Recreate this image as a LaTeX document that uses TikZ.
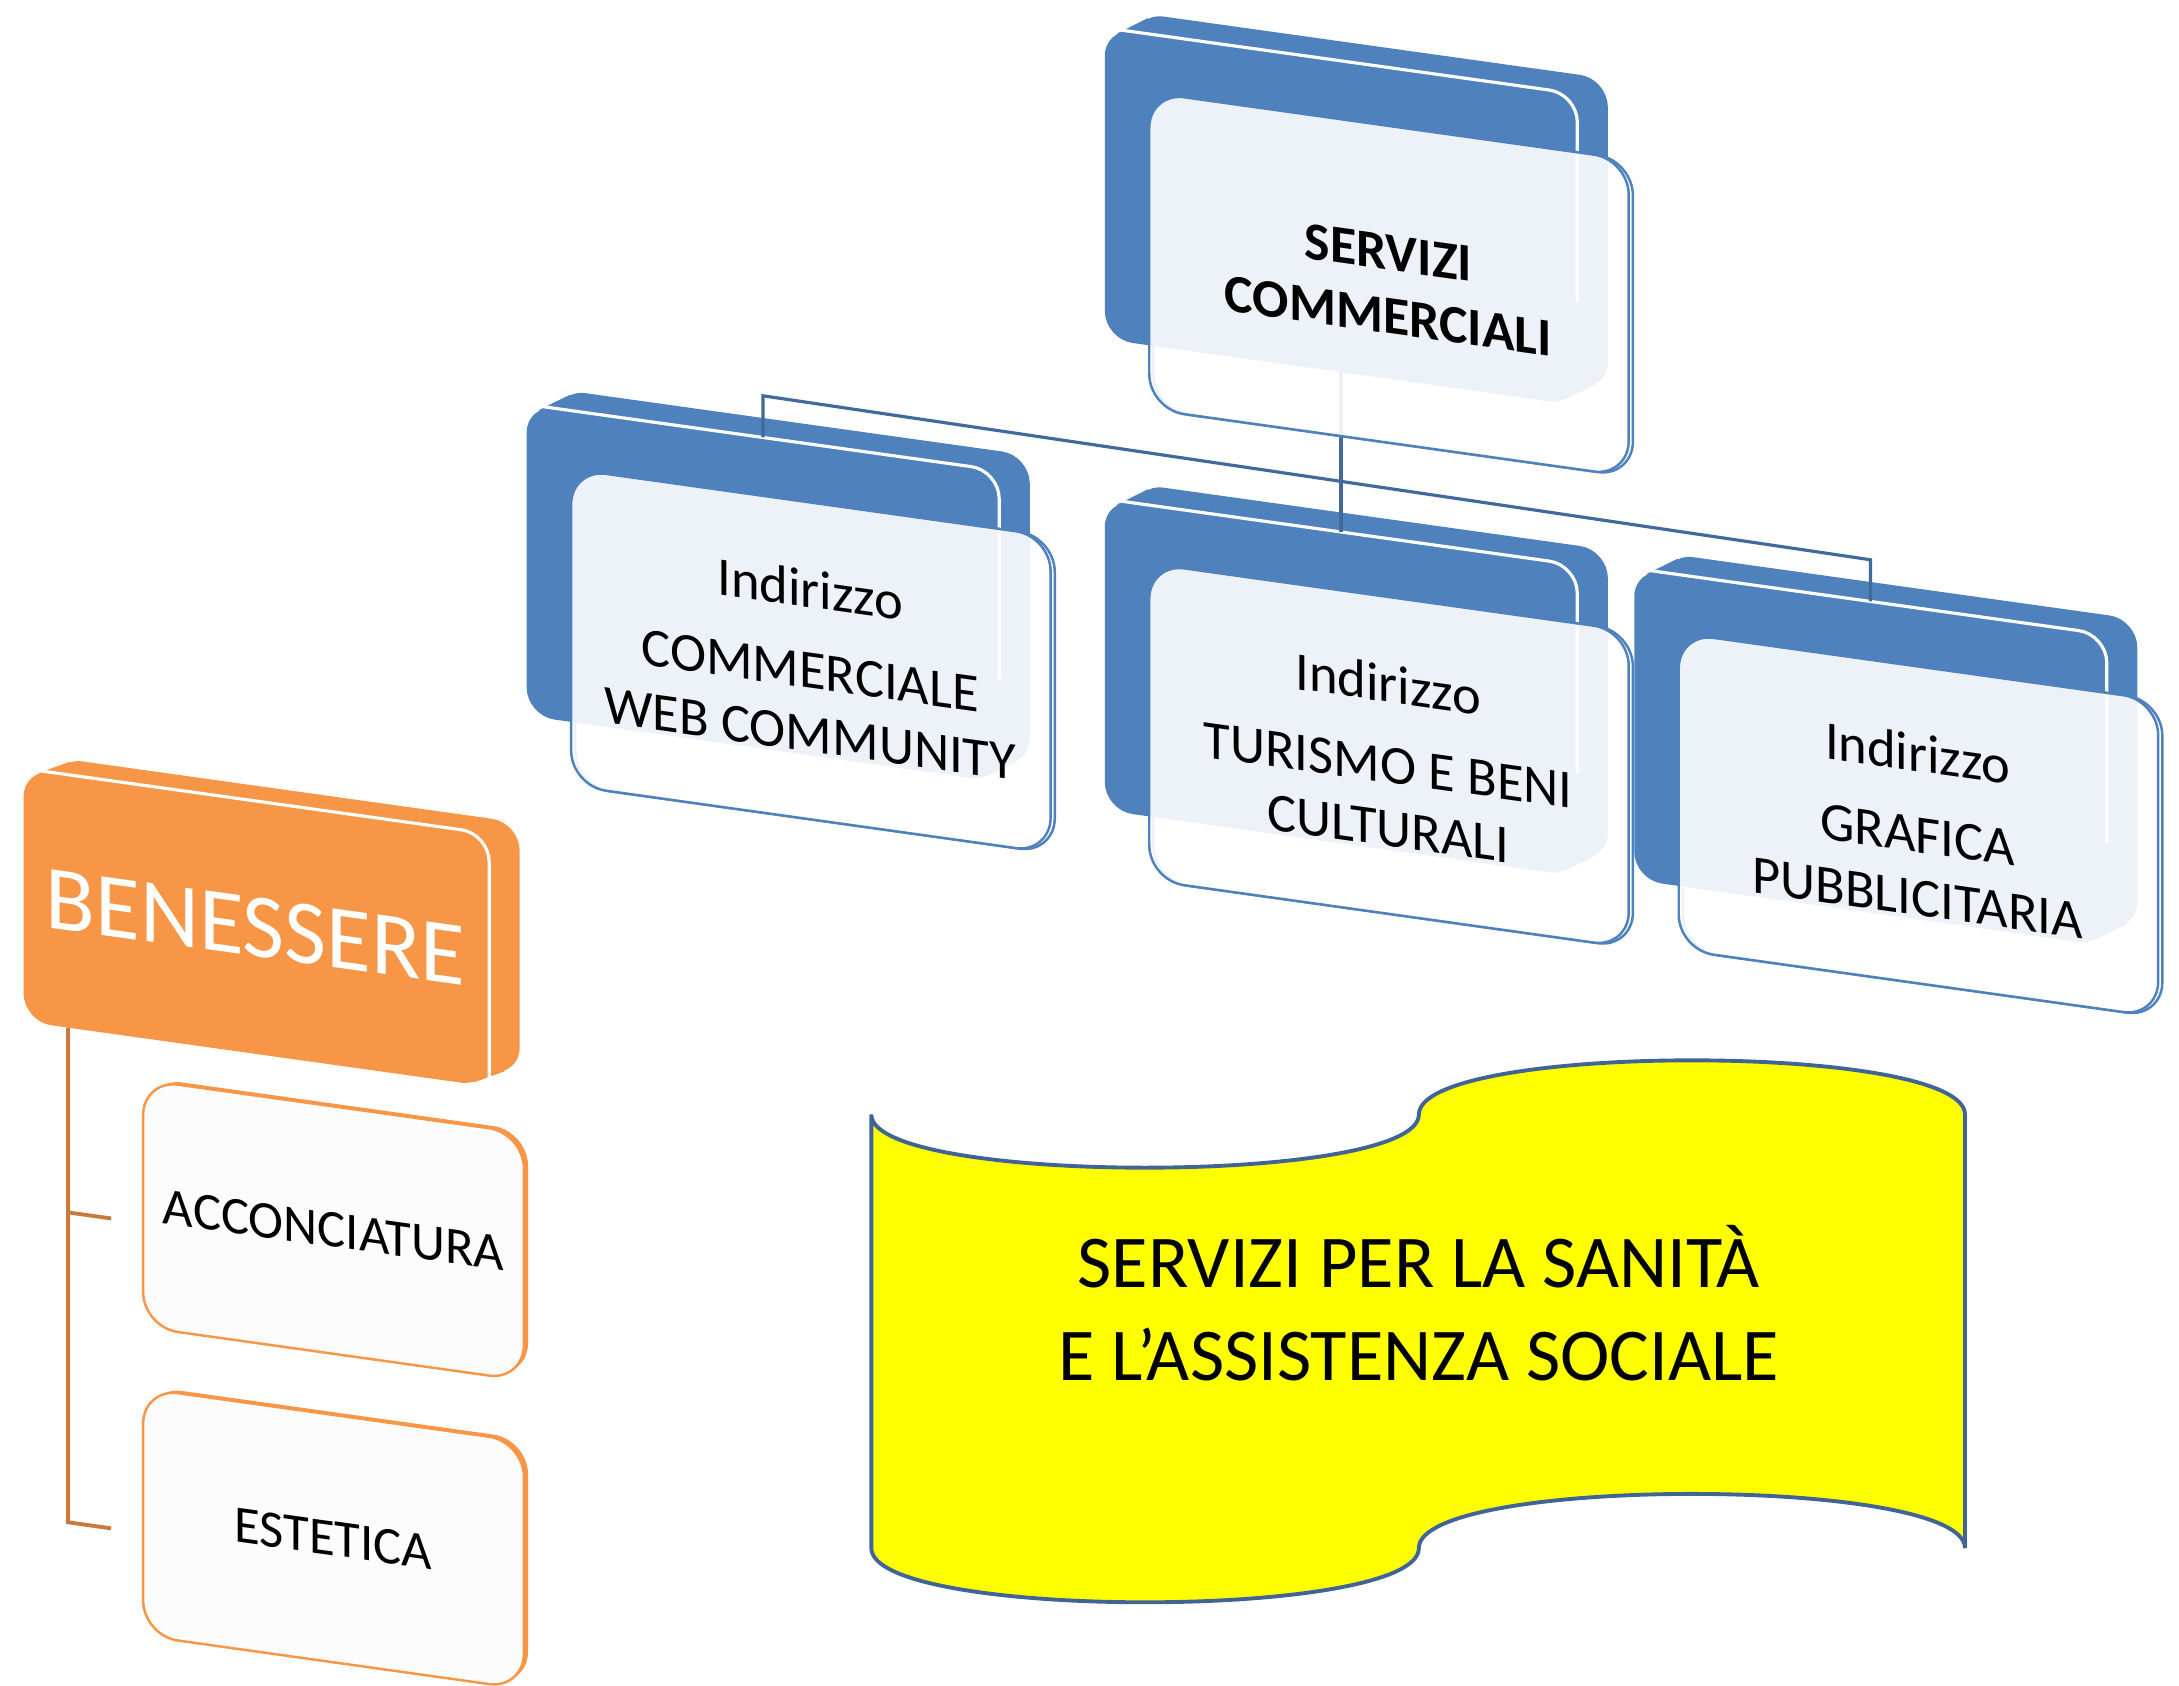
\documentclass[tikz,border=0pt]{standalone}
\usepackage{fontspec}
\setmainfont{Carlito}
\usetikzlibrary{calc}

\definecolor{slabblue}{RGB}{79,129,189}
\definecolor{treeblue}{RGB}{65,105,155}
\definecolor{slaborange}{RGB}{247,150,70}
\definecolor{treeorange}{RGB}{200,122,62}
\definecolor{bannerblue}{RGB}{65,100,150}
\definecolor{bannerfill}{RGB}{255,255,0}
\definecolor{kidwhite}{RGB}{252,252,252}

\tikzset{
  slab/.style={fill=slabblue, rounded corners=8pt},
  oslab/.style={fill=slaborange, rounded corners=8pt},
  rim/.style={draw=white, line width=0.9pt, rounded corners=8pt},
  pane/.style={fill=white, fill opacity=0.9, draw=slabblue, line width=0.7pt, rounded corners=10pt},
  paneedge/.style={draw=slabblue, line width=0.7pt, rounded corners=10pt},
  panetext/.style={align=center, transform shape, font={\fontsize{15.5}{18}\selectfont}},
  kid/.style={fill=kidwhite, draw=slaborange, line width=0.7pt, rounded corners=10pt},
  kidback/.style={fill=slaborange, rounded corners=10pt},
  kidtext/.style={transform shape, font={\fontsize{15}{18}\selectfont}},
  tree/.style={draw=treeblue, line width=0.9pt},
  otree/.style={draw=treeorange, line width=1.1pt},
  banner/.style={fill=bannerfill, draw=bannerblue, line width=1.1pt},
}

\begin{document}
\begin{tikzpicture}[x=0.0139cm, y=-0.0139cm]

  \newcommand\Skew{-0.14}
  \useasboundingbox (0,0) rectangle (1568,1213);

  %% blue slabs
  \foreach \gx/\gy/\gn in {795/20/sc, 379/291/we, 795/359/tu, 1176/409/gr}{
    \begin{scope}[shift={(\gx,\gy)}, yslant=\Skew]
      \fill[slab] (22,-14) rectangle (362,210);
      \fill[slab] (0,0) rectangle (340,224);
      \fill[slabblue] (8.9,2.8) -- (30.9,-11.2) -- (353.1,207.2) -- (331.1,221.2) -- cycle;
      \draw[rim] (10,0) -- (340,0) -- (340,150);
      \coordinate (\gn-top) at (170,0);
      \coordinate (\gn-bot) at (170,224);
    \end{scope}
  }

  \draw[tree] (sc-bot) -- (tu-top); %% sc->tu
  \draw[tree] (we-top) -- ++(0,-30) -- ($(gr-top)+(0,-30)$) -- (gr-top); %% we->gr

  %% panes
  \begin{scope}[shift={(795,20)}, yslant=\Skew]
    \draw[paneedge] (35,42) rectangle (380,270);
    \draw[pane] (32,42) rectangle (377,270);
    \node[panetext, font={\fontsize{15.3}{18}\selectfont\bfseries}] (sc) at (204,156) {SERVIZI\\COMMERCIALI};
  \end{scope}
  \begin{scope}[shift={(379,291)}, yslant=\Skew]
    \draw[paneedge] (35,42) rectangle (380,270);
    \draw[pane] (32,42) rectangle (377,270);
    \node[panetext] (we) at (204,156) {Indirizzo\\[5pt]COMMERCIALE\\WEB COMMUNITY};
  \end{scope}
  \begin{scope}[shift={(795,359)}, yslant=\Skew]
    \draw[paneedge] (35,42) rectangle (380,270);
    \draw[pane] (32,42) rectangle (377,270);
    \node[panetext] (tu) at (204,156) {Indirizzo\\[5pt]TURISMO E BENI\\CULTURALI};
  \end{scope}
  \begin{scope}[shift={(1176,409)}, yslant=\Skew]
    \draw[paneedge] (35,42) rectangle (380,270);
    \draw[pane] (32,42) rectangle (377,270);
    \node[panetext] (gr) at (204,156) {Indirizzo\\[5pt]GRAFICA\\PUBBLICITARIA};
  \end{scope}

  %% orange branch
  \begin{scope}[shift={(17,553)}, yslant=\Skew]
    \fill[oslab] (22,-11) rectangle (357,171);
    \fill[oslab] (0,0) rectangle (335,182);
    \fill[slaborange] (10.8,1.7) -- (32.8,-9.3) -- (346.2,169.4) -- (324.2,180.4) -- cycle;
    \draw[rim] (10,0) -- (335,0) -- (335,176);
    \node[transform shape, text=white, font={\fontsize{26}{30}\selectfont}] (be) at (167,91) {BENESSERE};
    \coordinate (be-bot) at (32,182);
  \end{scope}
  \begin{scope}[shift={(103,777)}, yslant=\Skew]
    \fill[kidback] (3,-2) rectangle (277,176);
    \draw[kid] (0,0) rectangle (274,178);
    \node[kidtext] (ac) at (137,89) {ACCONCIATURA};
    \coordinate (ac-a) at (-54,103);
    \coordinate (ac-b) at (-23,103);
  \end{scope}
  \begin{scope}[shift={(103,999)}, yslant=\Skew]
    \fill[kidback] (3,-2) rectangle (277,176);
    \draw[kid] (0,0) rectangle (274,178);
    \node[kidtext] (es) at (137,89) {ESTETICA};
    \coordinate (es-a) at (-54,104);
    \coordinate (es-b) at (-23,104);
  \end{scope}

  \draw[otree] (be-bot) -- (es-a) -- (es-b);
  \draw[otree] (ac-a) -- (ac-b);

  %% banner
  \draw[banner] (627,802) .. controls (627,853) and (1021,853) .. (1021,802)
    .. controls (1021,750) and (1414,750) .. (1414,802) -- (1414,1114)
    .. controls (1414,1062) and (1021,1062) .. (1021,1114)
    .. controls (1021,1166) and (627,1166) .. (627,1114) -- cycle;
  \node[align=center, font={\fontsize{21.2}{26.5}\selectfont}] (san) at (1021,938)
    {SERVIZI PER LA SANITÀ\\E L’ASSISTENZA SOCIALE};

\end{tikzpicture}
\end{document}
